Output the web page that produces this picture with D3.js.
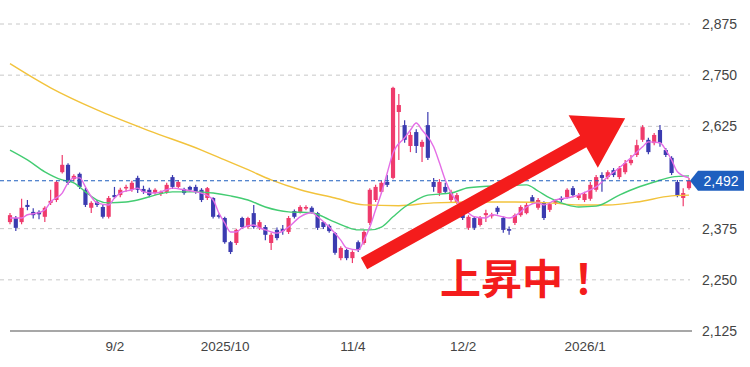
<!DOCTYPE html>
<html>
<head>
<meta charset="utf-8">
<script src="https://cdn.jsdelivr.net/npm/d3@7/dist/d3.min.js"></script>
<style>
	body { margin: 0; background: #fff; }
	svg { display: block; font-family: "Liberation Sans", Arial, sans-serif; }
</style>
</head>
<body>
<div id="chart"></div>
<script>
// trading days shown on the chart
var dates = [
	"2025-08-06","2025-08-07","2025-08-08","2025-08-12","2025-08-13","2025-08-14","2025-08-15","2025-08-18","2025-08-19","2025-08-20",
	"2025-08-21","2025-08-22","2025-08-25","2025-08-26","2025-08-27","2025-08-28","2025-08-29","2025-09-01","2025-09-02","2025-09-03",
	"2025-09-04","2025-09-05","2025-09-08","2025-09-09","2025-09-10","2025-09-11","2025-09-12","2025-09-16","2025-09-17","2025-09-18",
	"2025-09-19","2025-09-22","2025-09-24","2025-09-25","2025-09-26","2025-09-29","2025-09-30","2025-10-01","2025-10-02","2025-10-03",
	"2025-10-06","2025-10-07","2025-10-08","2025-10-09","2025-10-10","2025-10-14","2025-10-15","2025-10-16","2025-10-17","2025-10-20",
	"2025-10-21","2025-10-22","2025-10-23","2025-10-24","2025-10-27","2025-10-28","2025-10-29","2025-10-30","2025-10-31","2025-11-04",
	"2025-11-05","2025-11-06","2025-11-07","2025-11-10","2025-11-11","2025-11-12","2025-11-13","2025-11-14","2025-11-17","2025-11-18",
	"2025-11-19","2025-11-20","2025-11-21","2025-11-25","2025-11-26","2025-11-27","2025-11-28","2025-12-01","2025-12-02","2025-12-03",
	"2025-12-04","2025-12-05","2025-12-08","2025-12-09","2025-12-10","2025-12-11","2025-12-12","2025-12-15","2025-12-16","2025-12-17",
	"2025-12-18","2025-12-19","2025-12-22","2025-12-23","2025-12-24","2025-12-25","2025-12-26","2025-12-29","2025-12-30","2026-01-05",
	"2026-01-06","2026-01-07","2026-01-08","2026-01-09","2026-01-13","2026-01-14","2026-01-15","2026-01-16","2026-01-19","2026-01-20",
	"2026-01-21","2026-01-22","2026-01-23","2026-01-26","2026-01-27","2026-01-28","2026-01-29","2026-01-30"
];

var open = [
	2391,2401,2391,2433,2416,2416,2404,2438,2445,2513, 2531,2496,2509,2470,2426,2440,2428,2404,2457,2457,
	2474,2470,2499,2472,2470,2462,2460,2465,2501,2477, 2472,2477,2477,2470,2450,2450,2408,2401,2342,2340,
	2401,2379,2413,2377,2379,2340,2372,2374,2367,2418, 2416,2424,2426,2413,2391,2382,2364,2303,2323,2303,
	2342,2340,2389,2445,2465,2489,2499,2660,2628,2577, 2611,2575,2628,2489,2462,2477,2445,2440,2421,2377,
	2401,2384,2408,2406,2426,2401,2374,2389,2408,2413, 2452,2426,2438,2421,2438,2450,2452,2474,2450,2445,
	2448,2470,2506,2501,2518,2501,2513,2535,2555,2592, 2592,2584,2616,2567,2548,2489,2450,2474
];
var high = [
	2413,2406,2448,2445,2425,2420,2430,2470,2492,2555, 2535,2508,2512,2475,2442,2445,2433,2455,2477,2475,
	2482,2492,2504,2480,2475,2474,2468,2487,2506,2494, 2475,2480,2482,2474,2477,2452,2412,2404,2345,2375,
	2404,2404,2433,2396,2384,2365,2378,2384,2406,2422, 2432,2432,2430,2416,2394,2386,2367,2332,2326,2322,
	2346,2372,2474,2482,2492,2506,2722,2704,2640,2612, 2618,2592,2660,2499,2496,2487,2470,2462,2425,2408,
	2405,2406,2421,2414,2430,2404,2380,2412,2432,2438, 2457,2450,2442,2440,2447,2454,2474,2479,2462,2465,
	2489,2506,2513,2518,2523,2528,2543,2555,2592,2628, 2597,2609,2628,2572,2552,2494,2474,2499
];
var low = [
	2386,2369,2386,2420,2400,2398,2391,2433,2440,2510, 2482,2490,2472,2428,2413,2428,2400,2400,2448,2452,
	2465,2465,2462,2460,2452,2458,2455,2460,2472,2474, 2458,2465,2460,2440,2445,2400,2400,2338,2313,2335,
	2375,2375,2375,2372,2347,2323,2347,2360,2362,2400, 2412,2420,2412,2372,2374,2365,2311,2298,2298,2291,
	2318,2336,2384,2440,2460,2477,2496,2543,2585,2562, 2560,2538,2543,2465,2455,2460,2440,2435,2396,2372,
	2372,2380,2391,2400,2410,2365,2360,2384,2404,2410, 2436,2421,2396,2416,2433,2440,2448,2452,2445,2440,
	2443,2465,2465,2496,2501,2496,2508,2530,2550,2587, 2557,2579,2575,2550,2506,2452,2430,2470
];
var close = [
	2408,2377,2426,2428,2408,2410,2426,2443,2489,2531, 2487,2504,2477,2433,2438,2433,2404,2450,2452,2470,
	2477,2487,2470,2465,2457,2470,2465,2482,2477,2489, 2462,2470,2465,2445,2474,2404,2404,2342,2318,2372,
	2379,2401,2379,2391,2360,2360,2352,2369,2401,2404, 2428,2428,2416,2377,2379,2369,2316,2328,2303,2318,
	2323,2367,2470,2477,2487,2482,2719,2677,2592,2604, 2577,2587,2548,2477,2489,2465,2465,2457,2401,2404,
	2377,2401,2413,2409,2416,2372,2370,2408,2428,2433, 2440,2445,2401,2435,2443,2445,2470,2457,2457,2460,
	2482,2501,2499,2513,2506,2523,2535,2543,2579,2623, 2562,2604,2584,2555,2511,2457,2462,2492
];

// moving averages: [day index, price]
var ma5 = [
	[0,2401],[2,2401],[3,2409],[5,2414],[6,2421],[7,2440],[9,2462],[10,2487],[11,2499],[12,2499],
	[13,2477],[14,2453],[15,2438],[17,2433],[18,2450],[19,2462],[21,2470],[22,2474],[23,2465],[25,2462],
	[27,2470],[28,2474],[30,2470],[32,2465],[33,2462],[35,2445],[36,2413],[37,2389],[38,2367],[39,2367],
	[40,2377],[42,2384],[43,2377],[44,2372],[45,2367],[46,2364],[48,2379],[50,2404],[52,2414],[53,2404],
	[55,2379],[57,2347],[58,2328],[60,2323],[61,2347],[62,2379],[63,2421],[64,2462],[65,2511],[66,2560],
	[68,2597],[69,2616],[70,2633],[71,2616],[73,2575],[74,2536],[75,2494],[76,2462],[78,2428],[80,2404],
	[82,2401],[83,2409],[85,2404],[86,2401],[88,2416],[89,2428],[91,2438],[92,2433],[94,2445],[97,2453],
	[100,2470],[101,2477],[103,2502],[105,2524],[107,2548],[109,2575],[110,2587],[112,2585],[113,2567],[114,2543],
	[115,2514],[117,2499]
];
var ma25 = [
	[0,2567],[3,2543],[6,2514],[9,2494],[11,2487],[13,2465],[15,2445],[17,2438],[20,2440],[22,2445],
	[25,2457],[28,2465],[32,2465],[35,2462],[38,2455],[41,2445],[44,2428],[48,2416],[52,2414],[55,2397],
	[58,2379],[60,2372],[62,2372],[64,2379],[66,2404],[68,2428],[70,2445],[72,2457],[76,2462],[79,2475],
	[85,2480],[89,2482],[91,2467],[93,2450],[96,2433],[98,2428],[101,2430],[105,2457],[108,2475],[111,2489],
	[114,2501],[117,2504]
];
var ma75 = [
	[0,2778],[7,2719],[15,2665],[24,2614],[33,2567],[37,2543],[41,2519],[45,2494],[50,2470],[56,2450],
	[61,2433],[67,2431],[73,2438],[81,2440],[87,2440],[93,2438],[98,2433],[103,2433],[108,2440],[114,2455],
	[117,2457]
];

var lastPrice = 2492;
var yTicks = [2125, 2250, 2375, 2625, 2750, 2875];
var xTicks = ["2025-09-02", "2025-10-01", "2025-11-04", "2025-12-02", "2026-01-05"];
var xTickLabels = ["9/2", "2025/10", "11/4", "12/2", "2026/1"];

var width = 750, height = 367;
var colors = {
	up: "#ef3b6c",
	down: "#3b3bb0",
	ma5: "#e46ee6",
	ma25: "#43cc72",
	ma75: "#f2c33c",
	price: "#1f5fbf",
	grid: "#c8c8c8",
	arrow: "#f41c1c"
};

var svg = d3.select("#chart").append("svg")
	.attr("width", width)
	.attr("height", height);

var x = d3.scalePoint()
	.domain(dates)
	.range([10, 689]);
var y = d3.scaleLinear()
	.domain([2125, 2875])
	.range([331, 24]);
var bodyW = x.step() * 0.72;

// grid lines
svg.append("g").selectAll("line")
	.data(yTicks.filter(function(d) { return d != 2125; }))
	.enter().append("line")
	.attr("x1", 0)
	.attr("x2", 690)
	.attr("y1", function(d) { return y(d); })
	.attr("y2", function(d) { return y(d); })
	.attr("stroke", colors.grid)
	.attr("stroke-width", 1)
	.attr("stroke-dasharray", "4,4");

// bottom line
svg.append("line")
	.attr("x1", 10).attr("x2", 692)
	.attr("y1", y(2125)).attr("y2", y(2125))
	.attr("stroke", "#8a8a8a")
	.attr("stroke-width", 1.5);

// axes
var yAxis = svg.append("g")
	.attr("transform", "translate(698,0)")
	.call(d3.axisRight(y).tickValues(yTicks).tickSize(0).tickPadding(4).tickFormat(d3.format(",")));
yAxis.select(".domain").remove();
yAxis.selectAll("text")
	.attr("fill", "#444")
	.style("font-size", "14px")
	.style("font-family", "Liberation Sans, Arial, sans-serif");

var xAxis = svg.append("g")
	.attr("transform", "translate(0,335)")
	.call(d3.axisBottom(x).tickValues(xTicks).tickSize(0).tickPadding(6)
		.tickFormat(function(d) { return xTickLabels[xTicks.indexOf(d)]; }));
xAxis.select(".domain").remove();
xAxis.selectAll("text")
	.attr("fill", "#444")
	.style("font-size", "13.5px")
	.style("font-family", "Liberation Sans, Arial, sans-serif");

// candles
var candles = svg.append("g").selectAll("g")
	.data(dates)
	.enter().append("g")
	.attr("fill", function(d, i) { return close[i] >= open[i] ? colors.up : colors.down; })
	.attr("stroke", function(d, i) { return close[i] >= open[i] ? colors.up : colors.down; });

candles.append("line")
	.attr("x1", function(d) { return x(d); })
	.attr("x2", function(d) { return x(d); })
	.attr("y1", function(d, i) { return y(high[i]); })
	.attr("y2", function(d, i) { return y(low[i]); })
	.attr("stroke-width", 1.2);

candles.append("rect")
	.attr("x", function(d) { return x(d) - bodyW / 2; })
	.attr("width", bodyW)
	.attr("y", function(d, i) { return y(Math.max(open[i], close[i])); })
	.attr("height", function(d, i) { return Math.max(1.5, Math.abs(y(open[i]) - y(close[i]))); })
	.attr("stroke", "none");

// moving averages
var maLine = d3.line()
	.x(function(d) { return x(dates[d[0]]); })
	.y(function(d) { return y(d[1]); })
	.curve(d3.curveMonotoneX);

[[ma75, colors.ma75], [ma25, colors.ma25], [ma5, colors.ma5]].forEach(function(m) {
	svg.append("path")
		.datum(m[0])
		.attr("d", maLine)
		.attr("fill", "none")
		.attr("stroke", m[1])
		.attr("stroke-width", 1.4);
});

// current price line + label
svg.append("line")
	.attr("x1", 0).attr("x2", 690)
	.attr("y1", y(lastPrice)).attr("y2", y(lastPrice))
	.attr("stroke", colors.price)
	.attr("stroke-width", 1.2)
	.attr("stroke-dasharray", "4,3");

var py = y(lastPrice);
svg.append("path")
	.attr("d", "M690," + py + "L698," + (py - 10) + "H744V" + (py + 10) + "H698Z")
	.attr("fill", colors.price);
svg.append("text")
	.text(d3.format(",")(lastPrice))
	.attr("x", 721)
	.attr("y", py)
	.attr("dy", "0.35em")
	.attr("text-anchor", "middle")
	.attr("fill", "#fff")
	.style("font-size", "14px");

// big arrow (annotation)
var tail = [x("2025-11-06"), y(2290)];
var tip = [x("2026-01-15"), y(2645)];
var dx = tip[0] - tail[0], dy = tip[1] - tail[1];
var len = Math.sqrt(dx * dx + dy * dy);
var u = [dx / len, dy / len], n = [-u[1], u[0]];
var headLen = 48, headW = 30, shaftW = 6.5;
var base = [tip[0] - u[0] * headLen, tip[1] - u[1] * headLen];
function pt(p, k) { return (p[0] + n[0] * k) + "," + (p[1] + n[1] * k); }
svg.append("path")
	.attr("d", "M" + pt(tail, shaftW) + "L" + pt(base, shaftW) + "L" + pt(base, headW) +
		"L" + tip[0] + "," + tip[1] + "L" + pt(base, -headW) + "L" + pt(base, -shaftW) +
		"L" + pt(tail, -shaftW) + "Z")
	.attr("fill", colors.arrow);

svg.append("text")
	.text("上昇中！")
	.attr("x", 440)
	.attr("y", 294)
	.attr("fill", colors.arrow)
	.style("font-size", "41px")
	.style("font-weight", "bold")
	.style("font-family", "'Noto Sans CJK JP', sans-serif");
</script>
</body>
</html>
